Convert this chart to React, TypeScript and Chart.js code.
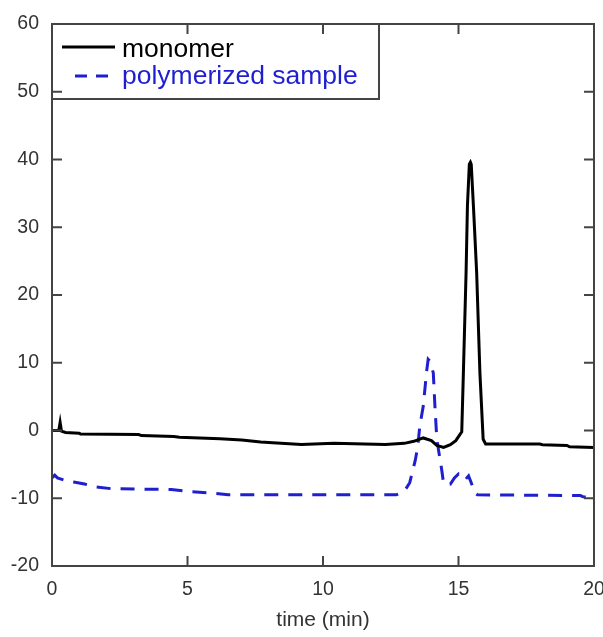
import React, { useEffect, useRef } from "react";
import { Chart, registerables } from "chart.js";

Chart.register(...registerables);

// monomer trace
const monomerTime = [
  0, 0.25, 0.3, 0.35, 0.5, 1.0, 1.05, 3.2, 3.3, 4.5, 4.7, 6.2, 7.0, 7.7, 8.3, 9.2,
  10.4, 12.3, 13.0, 13.35, 13.7, 14.0, 14.2, 14.45, 14.7, 14.9, 15.05, 15.12, 15.18,
  15.28, 15.33, 15.4, 15.44, 15.47, 15.55, 15.67, 15.79, 15.91, 16.0, 18.0, 18.1,
  19.0, 19.1, 20.0,
];
const monomerSignal = [
  0, 0, 1.2, -0.1, -0.3, -0.4, -0.5, -0.6, -0.75, -0.9, -1.0, -1.2, -1.4, -1.7, -1.85,
  -2.05, -1.9, -2.05, -1.9, -1.6, -1.1, -1.5, -2.2, -2.5, -2.1, -1.5, -0.6, -0.2, 8.5,
  23.4, 33.2, 39.3, 39.6, 39.3, 33.2, 23.3, 8.5, -1.3, -2.0, -2.0, -2.1, -2.2, -2.4,
  -2.5,
];

// polymerized sample trace
const polymerTime = [
  0, 0.1, 0.2, 0.5, 0.8, 1.2, 1.6, 2.2, 4.4, 5.1, 5.8, 6.5, 12.7, 13.0, 13.2, 13.4,
  13.5, 13.57, 13.7, 13.82, 13.88, 13.95, 14.07, 14.13, 14.2, 14.38, 14.45, 14.56,
  14.7, 14.85, 15.0, 15.1, 15.24, 15.37, 15.45, 15.6, 15.7, 19.5, 19.6, 20.0,
];
const polymerSignal = [
  -7.0, -6.6, -7.0, -7.4, -7.6, -7.9, -8.3, -8.6, -8.7, -9.0, -9.2, -9.5, -9.5, -9.0,
  -7.7, -4.5, -2.3, 0.6, 3.6, 8.6, 10.5, 10.2, 8.5, 3.6, -1.3, -5.8, -7.8, -7.8, -7.9,
  -7.0, -6.4, -6.7, -7.3, -6.7, -7.5, -9.2, -9.5, -9.6, -9.8, -9.9,
];

const seriesLabels = ["monomer", "polymerized sample"];
const xTitle = "time (min)";
const xMin = 0, xMax = 20, xStep = 5;
const yMin = -20, yMax = 60, yStep = 10;

const AXIS_COLOR = "#444";
const TEXT_COLOR = "#333";
const BLUE = "#1f1fcf";
const FONT = "Arial, 'Liberation Sans', sans-serif";

const framePlugin = {
  id: "frame",
  afterDraw(chart: any) {
    const { ctx, chartArea: a, scales } = chart;
    const x = scales.x, y = scales.y;
    ctx.save();
    ctx.strokeStyle = AXIS_COLOR;
    ctx.lineWidth = 2;
    ctx.strokeRect(a.left, a.top, a.right - a.left, a.bottom - a.top);
    const tl = 10;
    ctx.beginPath();
    y.ticks.forEach((t: any) => {
      const p = y.getPixelForValue(t.value);
      ctx.moveTo(a.left, p); ctx.lineTo(a.left + tl, p);
      ctx.moveTo(a.right, p); ctx.lineTo(a.right - tl, p);
    });
    x.ticks.forEach((t: any) => {
      const p = x.getPixelForValue(t.value);
      ctx.moveTo(p, a.bottom); ctx.lineTo(p, a.bottom - tl);
      ctx.moveTo(p, a.top); ctx.lineTo(p, a.top + tl);
    });
    ctx.stroke();

    // legend box
    const bx = a.left, by = a.top;
    const bw = 327, bh = 75;
    ctx.lineWidth = 2;
    ctx.strokeStyle = AXIS_COLOR;
    ctx.strokeRect(bx, by, bw, bh);
    ctx.font = `26.5px ${FONT}`;
    ctx.textBaseline = "alphabetic";
    const ds = chart.data.datasets;
    // entry 1
    ctx.beginPath();
    ctx.strokeStyle = ds[0].borderColor;
    ctx.lineWidth = 3;
    ctx.setLineDash([]);
    ctx.moveTo(bx + 10, by + 23); ctx.lineTo(bx + 63, by + 23);
    ctx.stroke();
    ctx.fillStyle = ds[0].borderColor;
    ctx.fillText(ds[0].label, bx + 70, by + 33);
    // entry 2
    ctx.beginPath();
    ctx.strokeStyle = ds[1].borderColor;
    ctx.lineWidth = 3;
    ctx.setLineDash([12, 9]);
    ctx.moveTo(bx + 23, by + 52); ctx.lineTo(bx + 62, by + 52);
    ctx.stroke();
    ctx.setLineDash([]);
    ctx.fillStyle = ds[1].borderColor;
    ctx.fillText(ds[1].label, bx + 70, by + 60);
    ctx.restore();
  },
};

export default function App() {
  const ref = useRef<HTMLCanvasElement>(null);
  useEffect(() => {
    const canvas = ref.current!;
    const chart = new Chart(canvas, {
      type: "line",
      data: {
        datasets: [
          {
            label: seriesLabels[0],
            data: monomerTime.map((t, i) => ({ x: t, y: monomerSignal[i] })),
            borderColor: "#000",
            borderWidth: 3,
            pointRadius: 0,
            tension: 0,
          },
          {
            label: seriesLabels[1],
            data: polymerTime.map((t, i) => ({ x: t, y: polymerSignal[i] })),
            borderColor: BLUE,
            borderWidth: 3,
            borderDash: [14, 10],
            pointRadius: 0,
            tension: 0,
          },
        ],
      },
      options: {
        animation: false,
        responsive: false,
        layout: { padding: { top: 24, right: 9, left: 0, bottom: 0 } },
        plugins: { legend: { display: false }, tooltip: { enabled: false } },
        scales: {
          x: {
            type: "linear",
            min: xMin,
            max: xMax,
            grid: { display: false, drawTicks: false },
            border: { display: false },
            ticks: {
              stepSize: xStep,
              padding: 12,
              color: TEXT_COLOR,
              font: { family: FONT, size: 19.5 },
              maxRotation: 0,
            },
            title: {
              display: true,
              text: xTitle,
              color: TEXT_COLOR,
              font: { family: FONT, size: 21 },
              padding: { top: 0, bottom: 4 },
            },
            afterFit(s: any) { s.height = 71; s.paddingLeft = 0; s.paddingRight = 0; },
          },
          y: {
            min: yMin,
            max: yMax,
            grid: { display: false, drawTicks: false },
            border: { display: false },
            ticks: {
              stepSize: yStep,
              padding: 13,
              color: TEXT_COLOR,
              font: { family: FONT, size: 19.5 },
            },
            afterFit(s: any) { s.width = 52; s.paddingTop = 0; s.paddingBottom = 0; },
          },
        },
      },
      plugins: [framePlugin],
    });
    return () => chart.destroy();
  }, []);
  return (
    <div style={{ position: "absolute", left: 0, top: 0, width: 603, height: 637, background: "#fff" }}>
      <canvas ref={ref} width={603} height={637} style={{ display: "block" }} />
    </div>
  );
}
